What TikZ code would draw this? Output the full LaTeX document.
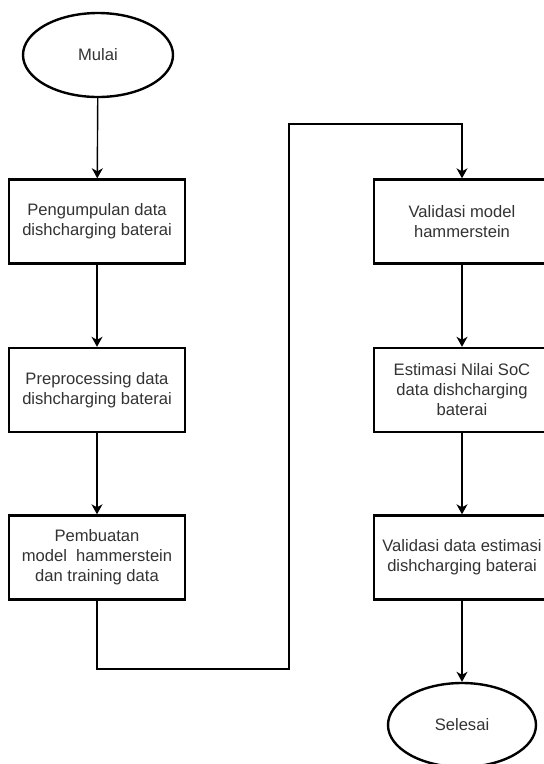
\documentclass[tikz,border=0pt]{standalone}
\usepackage{fontspec}
\setmainfont{Liberation Sans}
\usetikzlibrary{shapes.geometric,arrows.meta}
\definecolor{txt}{HTML}{333333}
\begin{document}
\begin{tikzpicture}[x=1pt,y=-1pt,
  proc/.style={draw=black,line width=2.4pt,fill=white,minimum width=176pt,minimum height=84pt,inner sep=0pt,align=center,text=txt,font=\fontsize{16.6}{20}\selectfont},
  term/.style={draw=black,line width=2.4pt,fill=white,ellipse,minimum width=150pt,minimum height=84pt,inner sep=0pt,align=center,text=txt,font=\fontsize{16.6}{20}\selectfont},
  conn/.style={line width=1.4pt,-{Stealth[length=10pt,width=11pt,inset=3pt]}}]
\useasboundingbox (0,0) rectangle (544,764);
\clip (0,0) rectangle (544,764);
\node[term] (start) at (98,55) {Mulai};
\node[proc] (b1) at (97,221.5) {Pengumpulan data\\dishcharging baterai};
\node[proc] (b2) at (97,390) {Preprocessing data\\dishcharging baterai};
\node[proc] (b3) at (97,557.5) {Pembuatan\\model\ \ hammerstein\\dan training data};
\node[proc] (b4) at (462,221.5) {Validasi model\\hammerstein};
\node[proc] (b5) at (462,390) {Estimasi Nilai SoC\\data dishcharging\\baterai};
\node[proc] (b6) at (462,557.5) {Validasi data estimasi\\dishcharging baterai};
\node[term,minimum width=148pt] (end) at (462,725) {Selesai};
\coordinate (c1) at (97,669);
\coordinate (c2) at (289,669);
\coordinate (c3) at (289,124);
\coordinate (c4) at (462,124);
\draw[conn] (start) -- (b1);
\draw[conn] (b1) -- (b2);
\draw[conn] (b2) -- (b3);
\draw[conn] (b3.south) -- (c1) -- (c2) -- (c3) -- (c4) -- (b4.north);
\draw[conn] (b4) -- (b5);
\draw[conn] (b5) -- (b6);
\draw[conn] (b6) -- (end);
\end{tikzpicture}
\end{document}
